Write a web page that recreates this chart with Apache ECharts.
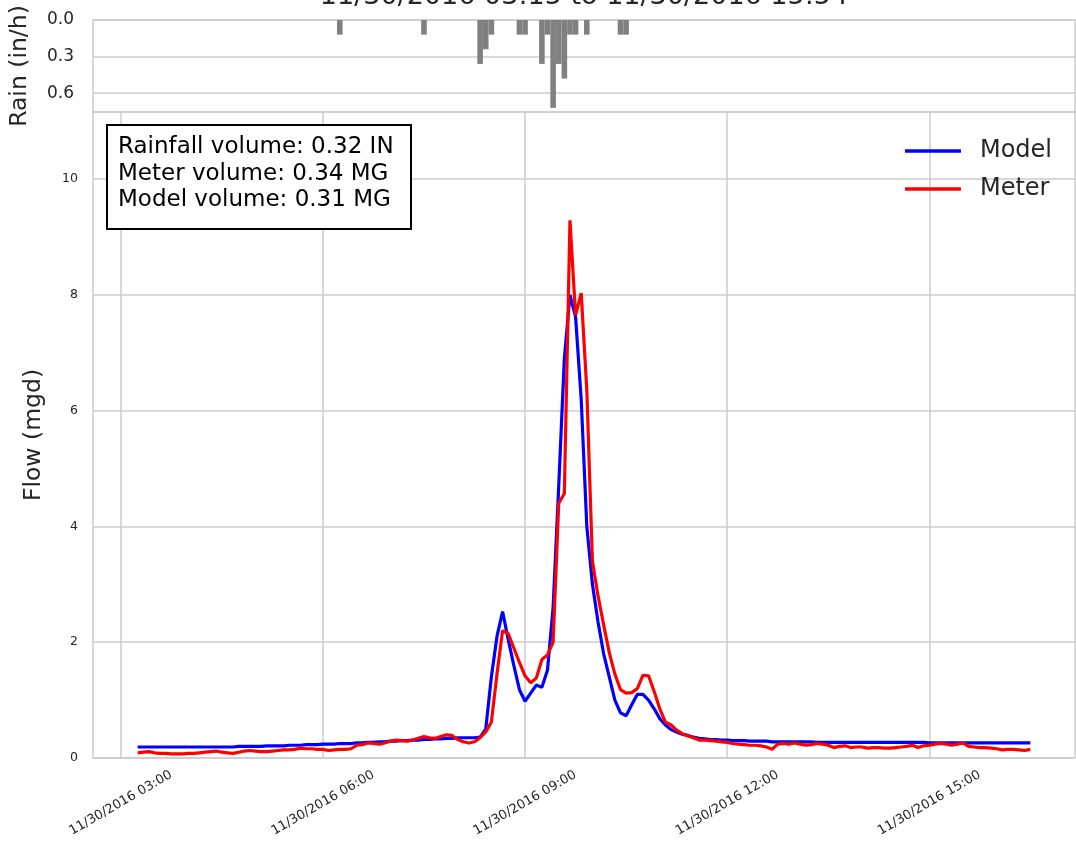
<!DOCTYPE html>
<html>
<head>
<meta charset="utf-8">
<script src="https://cdn.jsdelivr.net/npm/echarts@6/dist/echarts.min.js"></script>
<style>html,body{margin:0;padding:0;background:#fff}#c{width:1076px;height:845px}</style>
</head>
<body>
<div id="c"></div>
<script>
// ---- data ----
const titleText = '11/30/2016 03:15 to 11/30/2016 15:54';
const startTime = '2016-11-30T03:15:00';   // first flow sample
const stepMinutes = 5;                      // flow sampling step
const tickTimes = ['2016-11-30T03:00:00','2016-11-30T06:00:00','2016-11-30T09:00:00','2016-11-30T12:00:00','2016-11-30T15:00:00'];
const tickLabels = ['11/30/2016 03:00','11/30/2016 06:00','11/30/2016 09:00','11/30/2016 12:00','11/30/2016 15:00'];
const flowTicks = [0, 2, 4, 6, 8, 10];
const rainTicks = [0, 0.3, 0.6];

const modelFlow = [
  0.19,0.19,0.19,0.19,0.19,0.19,0.19,0.19,0.19,0.19,0.19,0.19,0.19,0.19,0.19,0.19,
  0.19,0.19,0.20,0.20,0.20,0.20,0.20,0.21,0.21,
  0.21,0.21,0.22,0.22,0.22,0.23,0.23,0.23,0.24,
  0.24,0.24,0.25,0.25,0.25,0.26,0.26,0.27,0.27,0.28,0.28,0.29,
  0.29,0.30,0.30,0.31,0.31,0.32,0.32,0.33,0.33,0.34,0.34,0.35,0.35,0.35,0.35,
  0.36,0.50,1.40,2.10,2.53,2.05,1.60,1.18,0.98,1.12,
  1.26,1.22,1.52,2.60,4.70,6.90,8.00,7.62,6.20,4.00,
  3.00,2.35,1.80,1.40,1.00,0.78,0.73,0.92,1.10,1.10,
  1.00,0.85,0.68,0.57,0.49,0.45,0.41,0.39,0.36,0.34,
  0.33,0.32,0.32,0.31,0.31,0.30,0.30,0.30,0.29,0.29,0.29,0.29,0.28,0.28,0.28,0.28,0.28,0.28,0.28,0.28,
  0.27,0.27,0.27,0.27,0.27,0.27,0.27,0.27,0.27,0.27,0.27,0.27,0.27,0.27,0.27,0.27,0.27,0.27,0.27,0.27,
  0.26,0.26,0.26,0.26,0.26,0.26,0.26,0.26,0.26,0.26,0.26,0.26,0.26,0.26,0.26,0.26,0.26,0.26,0.26
];
const meterFlow = [
  0.09,0.10,0.11,0.09,0.08,0.08,0.07,0.07,0.07,0.08,0.08,0.09,
  0.10,0.11,0.12,0.10,0.09,0.08,0.10,0.12,0.13,0.12,0.11,0.11,
  0.12,0.13,0.14,0.14,0.15,0.17,0.16,0.16,0.15,0.15,0.13,0.14,
  0.15,0.15,0.16,0.22,0.23,0.26,0.25,0.24,0.26,0.29,0.31,0.30,
  0.29,0.31,0.34,0.37,0.35,0.34,0.37,0.40,0.39,0.32,0.28,0.26,0.28,
  0.35,0.45,0.62,1.45,2.20,2.15,1.90,1.65,1.42,1.30,
  1.38,1.70,1.78,2.00,4.40,4.57,9.29,7.65,8.03,6.36,
  3.40,2.80,2.30,1.82,1.45,1.18,1.12,1.13,1.20,1.43,
  1.42,1.15,0.85,0.62,0.57,0.48,0.42,0.38,0.35,0.31,
  0.31,0.30,0.29,0.28,0.27,0.25,0.24,0.23,0.22,0.22,0.21,0.19,
  0.15,0.24,0.25,0.24,0.26,0.24,0.22,0.23,0.25,0.24,0.22,0.18,
  0.20,0.21,0.18,0.19,0.19,0.17,0.18,0.18,0.17,0.17,0.18,0.19,
  0.20,0.22,0.18,0.21,0.22,0.24,0.25,0.24,0.22,0.24,0.26,0.20,
  0.19,0.18,0.18,0.17,0.16,0.14,0.15,0.15,0.14,0.13,0.15
];
const rainTimes = ['06:15','07:30','08:20','08:25','08:30','08:55','09:00','09:15','09:20','09:25','09:30','09:35','09:40','09:45','09:55','10:25','10:30'];
const rainValues = [0.12,0.12,0.36,0.24,0.12,0.12,0.12,0.36,0.12,0.72,0.36,0.48,0.12,0.12,0.12,0.12,0.12];
const annotationLines = ['Rainfall volume: 0.32 IN','Meter volume: 0.34 MG','Model volume: 0.31 MG'];

// ---- build ----
const FONT = 'DejaVu Sans';
const TXT = '#262626';
const GRID = '#cccccc';
const t0 = new Date(startTime).getTime();
const flowTimes = modelFlow.map((_, i) => t0 + i * stepMinutes * 60000);
const span = flowTimes[flowTimes.length - 1] - flowTimes[0];
const xMin = flowTimes[0] - span * 0.05;
const xMax = flowTimes[flowTimes.length - 1] + span * 0.05;
const tickTs = tickTimes.map(s => new Date(s).getTime());
const labelOf = {};
tickTs.forEach((t, i) => { labelOf[t] = tickLabels[i]; });
const rainData = rainTimes.map((s, i) => [new Date('2016-11-30T' + s + ':00').getTime(), rainValues[i]]);
const modelData = flowTimes.map((t, i) => [t, modelFlow[i]]);
const meterData = flowTimes.map((t, i) => [t, meterFlow[i]]);

const chart = echarts.init(document.getElementById('c'), null, {renderer: 'canvas'});
chart.setOption({
  animation: false,
  backgroundColor: '#ffffff',
  grid: [
    {left: 93, right: 1, top: 20, height: 92, show: true, borderColor: GRID, borderWidth: 1.5},
    {left: 93, right: 1, top: 112, bottom: 87, show: true, borderColor: GRID, borderWidth: 1.5}
  ],
  xAxis: [
    {type: 'value', gridIndex: 0, min: xMin, max: xMax, scale: true,
     axisLine: {show: false}, axisTick: {show: false}, axisLabel: {show: false}, splitLine: {show: false}},
    {type: 'value', gridIndex: 1, min: xMin, max: xMax, scale: true,
     axisLine: {show: false},
     axisTick: {show: false, customValues: tickTs},
     axisLabel: {customValues: tickTs, formatter: v => labelOf[v] || '', rotate: 30, align: 'center', verticalAlign: 'middle',
                 margin: 45, fontSize: 13, color: TXT, fontFamily: FONT, hideOverlap: false},
     splitLine: {show: true, lineStyle: {color: GRID, width: 1.5}}}
  ],
  yAxis: [
    {type: 'value', gridIndex: 0, inverse: true, min: 0, max: 0.754,
     axisLine: {show: false}, axisTick: {show: false, customValues: rainTicks},
     axisLabel: {customValues: rainTicks, formatter: v => v.toFixed(1), fontSize: 17, margin: 19, color: TXT, fontFamily: FONT},
     splitLine: {show: true, lineStyle: {color: GRID, width: 1.5}},
     name: 'Rain (in/h)', nameLocation: 'middle', nameGap: 61,
     nameTextStyle: {fontSize: 23.5, color: TXT, fontFamily: FONT}},
    {type: 'value', gridIndex: 1, min: 0, max: 11.16,
     axisLine: {show: false}, axisTick: {show: false, customValues: flowTicks},
     axisLabel: {customValues: flowTicks, fontSize: 12.5, margin: 15, color: TXT, fontFamily: FONT},
     splitLine: {show: true, lineStyle: {color: GRID, width: 1.5}},
     name: 'Flow (mgd)', nameLocation: 'middle', nameGap: 47,
     nameTextStyle: {fontSize: 23.5, color: TXT, fontFamily: FONT}}
  ],
  legend: {
    data: ['Model', 'Meter'], orient: 'vertical', right: 19, top: 134,
    icon: 'rect', itemWidth: 56, itemHeight: 3.5, itemGap: 14,
    textStyle: {fontSize: 24, color: TXT, fontFamily: FONT, padding: [0, 0, 0, 14]}
  },
  graphic: [
    {type: 'text', x: 584, y: 10, z: 100,
     style: {text: titleText, font: '27px "DejaVu Sans"', fill: TXT, align: 'center', verticalAlign: 'bottom'}},
    {type: 'rect', z: 100, shape: {x: 107, y: 125, width: 304, height: 104},
     style: {fill: '#ffffff', stroke: '#000000', lineWidth: 2}},
    {type: 'text', z: 101, x: 118, y: 134,
     style: {text: annotationLines.join('\n'), font: '23px "DejaVu Sans"', lineHeight: 26.5, fill: '#000000', verticalAlign: 'top'}}
  ],
  series: [
    {name: 'Rain', type: 'bar', xAxisIndex: 0, yAxisIndex: 0, data: rainData, barWidth: 5.6,
     itemStyle: {color: '#808080'}},
    {name: 'Model', type: 'line', xAxisIndex: 1, yAxisIndex: 1, data: modelData, showSymbol: false, symbol: 'none',
     color: '#0000ff', lineStyle: {color: '#0000ff', width: 3.2}},
    {name: 'Meter', type: 'line', xAxisIndex: 1, yAxisIndex: 1, data: meterData, showSymbol: false, symbol: 'none',
     color: '#ff0000', lineStyle: {color: '#ff0000', width: 3.2}}
  ]
});
</script>
</body>
</html>
